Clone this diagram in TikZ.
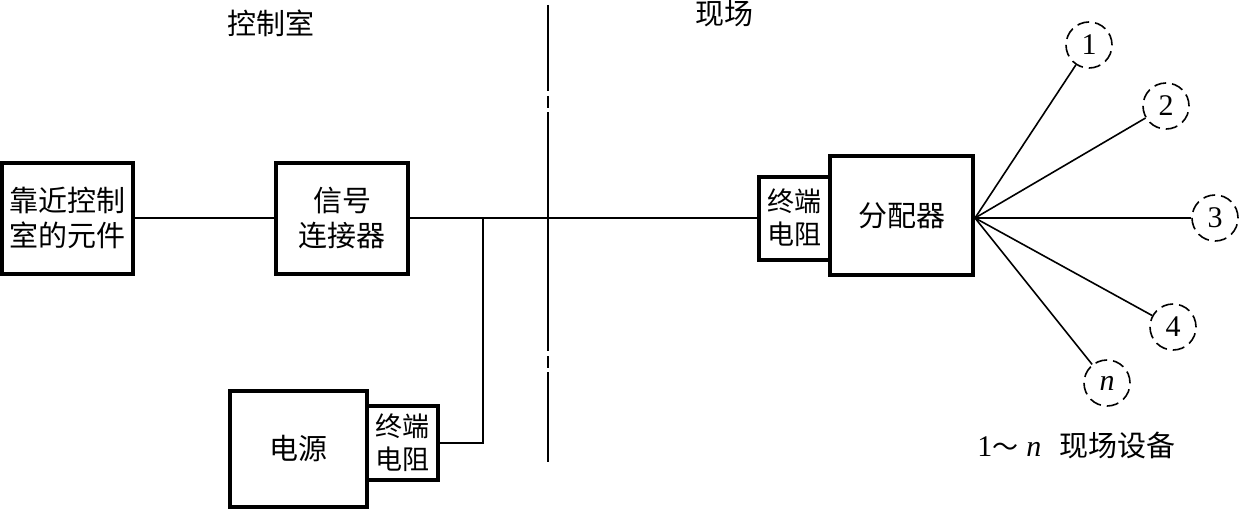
\documentclass[tikz,border=0pt]{standalone}
\usepackage{fontspec}
\setmainfont{Liberation Serif}
\newfontfamily\cjk{Noto Sans CJK SC}
\begin{document}
\begin{tikzpicture}[x=0.5pt,y=-0.5pt,
  box/.style={draw, line width=2pt, rectangle, inner sep=0pt, align=center,
    font=\cjk\fontsize{14.5}{17.5}\selectfont},
  smallbox/.style={box, font=\cjk\fontsize{13.5}{16.5}\selectfont},
  wire/.style={line width=0.8pt},
  dev/.style={circle, draw, dash pattern=on 6pt off 3pt, line width=0.8pt,
    minimum size=23pt, inner sep=0pt, font=\fontsize{15}{18}\selectfont},
  sep/.style={line width=1pt, dash pattern=on 119.5pt off 2.5pt on 6pt off 2pt, dash phase=76.5pt},
  lbl/.style={inner sep=0pt, font=\cjk\fontsize{14.5}{17}\selectfont}]
\useasboundingbox (0,0) rectangle (1240,508);

% boxes
\node[box, minimum width=65.5pt, minimum height=55.5pt] (elem) at (67.5,218) {靠近控制\\室的元件};
\node[box, minimum width=66pt, minimum height=55.5pt] (conn) at (342,218) {信号\\连接器};
\node[box, minimum width=68.5pt, minimum height=58pt] (pwr) at (298.5,449) {电源};
\node[smallbox, minimum width=35.5pt, minimum height=37pt] (term1) at (402.5,443) {终端\\电阻};
\node[smallbox, minimum width=35.5pt, minimum height=41.5pt] (term2) at (794.5,218) {终端\\电阻};
\node[box, minimum width=71.5pt, minimum height=59.5pt] (dist) at (901.5,215.5) {分配器};

% field devices
\node[dev] (d1) at (1089,45) {1};
\node[dev] (d2) at (1166,106) {2};
\node[dev] (d3) at (1215,218) {3};
\node[dev] (d4) at (1173,327) {4};
\node[dev] (dn) at (1107,383) {\itshape n};

% separator
\coordinate (septop) at (548,5);
\coordinate (sepbot) at (548,462);
\draw[sep] (septop) -- (sepbot);

% labels
\node[lbl] (lblc) at (271,23) {控制室};
\node[lbl] (lblf) at (724,14) {现场};
\node[anchor=west, inner sep=0pt, font=\fontsize{15}{18}\selectfont] (legend) at (977,445)
  {1{\cjk\fontsize{13}{14}\selectfont ～}\hspace{4pt}\textit{n}\hspace{9pt}{\cjk\fontsize{14.5}{17}\selectfont 现场设备}};

% wires
\coordinate (tee) at (483,218);
\coordinate (hub) at (dist.east |- tee);
\draw[wire] (elem.east) -- (conn.west);
\draw[wire] (conn.east) -- (term2.west);
\draw[wire] (term1.east) -| (tee);
\foreach \d in {d1,d2,d3,d4,dn} \draw[wire] (hub) -- (\d);
\end{tikzpicture}
\end{document}
